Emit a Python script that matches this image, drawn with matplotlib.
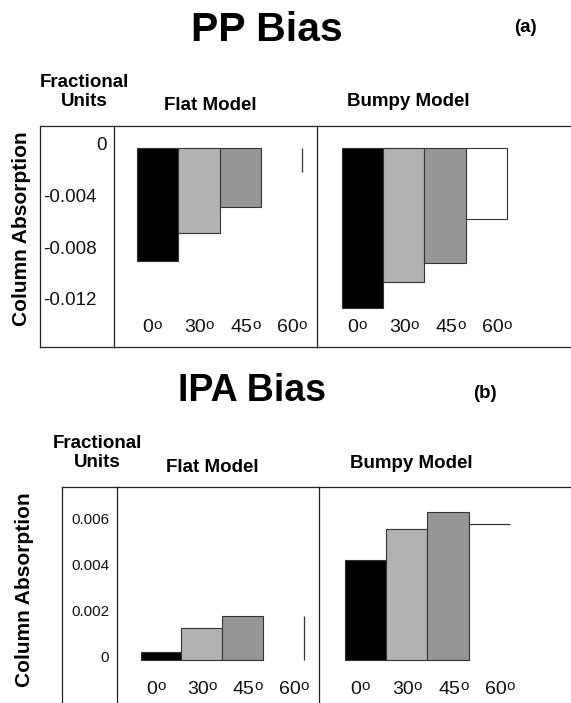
"""
PP / IPA column absorption bias, flat vs bumpy cloud model
"""

import numpy as np
import matplotlib
matplotlib.use('Agg')
import matplotlib.pyplot as plt
import matplotlib.transforms as mtransforms

# Fonts: Arial-like look
plt.rcParams['font.family'] = ['Liberation Sans', 'DejaVu Sans']

# ---- data ----
angles = ['0', '30', '45', '60']
pp_flat = [-0.00875, -0.00657, -0.0046, -0.00185]
pp_bumpy = [-0.01236, -0.01035, -0.00893, -0.00551]
ipa_flat = [0.00036, 0.0014, 0.00192, 0.00192]
ipa_bumpy = [0.00434, 0.00568, 0.00643, 0.0059]
pp_ticks = [0, -0.004, -0.008, -0.012]
pp_ticklabels = ['0', '-0.004', '-0.008', '-0.012']
ipa_ticks = [0.006, 0.004, 0.002, 0]
ipa_ticklabels = ['0.006', '0.004', '0.002', '0']

BAR_COLORS = ['#000000', '#b2b2b2', '#969696', '#ffffff']
LINE = '#222222'

W, H = 571, 703


def px_rect(left, top, right, bottom):
    """pixel box -> figure fraction rect"""
    return [left / W, 1 - bottom / H, (right - left) / W, (bottom - top) / H]


def frame(ax, bottom=True):
    ax.set_xticks([])
    ax.set_yticks([])
    ax.patch.set_alpha(0)
    for side in ['left', 'top', 'bottom']:
        ax.spines[side].set_color(LINE)
        ax.spines[side].set_linewidth(0.9)
    ax.spines['right'].set_visible(False)
    ax.spines['bottom'].set_visible(bottom)


def angle_label(ax, x, y, num, trans):
    """number with a small raised 'o' (degree sign as in the original)"""
    # shift number left by half the width of the 'o' so the pair is centred
    t = ax.text(x, y, num, transform=mtransforms.offset_copy(trans, fig=ax.figure, x=-3,
                                                            units='points'),
                ha='center', va='center', fontsize=14, color='#111111')
    ax.annotate('o', xy=(1, 1), xycoords=t, xytext=(0, 1), textcoords='offset points',
                ha='left', va='top', fontsize=11, color='#111111')


def draw_model(fig, rect, values, xlim, ylim, white_edge, label_y, bottom=True):
    ax = fig.add_axes(rect)
    frame(ax, bottom)
    ax.set_xlim(*xlim)
    ax.set_ylim(*ylim)
    x = np.arange(len(values))
    vals = np.array(values)

    # the three shaded bars
    ax.bar(x[:3], vals[:3], width=1.0, color=BAR_COLORS[:3],
           edgecolor='#333333', linewidth=0.8)

    # the 60 degree (white) bar - outline differs from panel to panel
    if white_edge == 'box':
        ax.bar(x[3], vals[3], width=1.0, color=BAR_COLORS[3],
               edgecolor='#333333', linewidth=0.8)
    elif white_edge == 'right':
        ax.vlines(x[3] + 0.5, 0, vals[3], color='#333333', linewidth=0.9)
    elif white_edge == 'top':
        ax.hlines(vals[3], x[3] - 0.5, x[3] + 0.5, color='#333333', linewidth=0.9)

    # angle labels are spaced a bit wider than the bars
    label_x = 1 + (x - 1) * 1.13
    trans = mtransforms.blended_transform_factory(ax.transData, ax.transAxes)
    for lx, a in zip(label_x, angles):
        angle_label(ax, lx, label_y, a, trans)
    return ax


def draw_label_column(fig, rect, ylim, ticks, labels, xpos, fontsize, bottom=True):
    ax = fig.add_axes(rect)
    frame(ax, bottom)
    ax.set_ylim(*ylim)
    trans = mtransforms.blended_transform_factory(ax.transAxes, ax.transData)
    trans = mtransforms.offset_copy(trans, fig=fig, y=1.5, units='points')
    for t, lab in zip(ticks, labels):
        ax.text(xpos(t), t, lab, transform=trans, ha='right', va='center',
                fontsize=fontsize, color='#111111')


def fig_text(fig, x, y, s, **kw):
    fig.text(x / W, 1 - y / H, s, ha='center', va='center', **kw)


fig = plt.figure(figsize=(W / 100, H / 100), dpi=100)
fig.patch.set_facecolor('white')

# ---------------- (a) PP Bias ----------------
pp_ylim = (-0.015402, 0.001677)
draw_label_column(fig, px_rect(40, 126, 114, 347), pp_ylim, pp_ticks, pp_ticklabels,
                  lambda t: 0.905 if t == 0 else 0.77, 13.5)
draw_model(fig, px_rect(114, 126, 317, 347), pp_flat, (-1.058, 3.864), pp_ylim,
           'right', 0.086)
draw_model(fig, px_rect(317, 126, 571, 347), pp_bumpy, (-1.107, 5.058), pp_ylim,
           'box', 0.086)

fig_text(fig, 266.5, 30, 'PP Bias', fontsize=29.5, fontweight='bold')
fig_text(fig, 525, 27, '(a)', fontsize=13.5, fontweight='bold')
fig_text(fig, 84, 92, 'Fractional\nUnits', fontsize=13.5, fontweight='bold',
         linespacing=1.1)
fig_text(fig, 210, 106, 'Flat Model', fontsize=13.5, fontweight='bold')
fig_text(fig, 408, 102, 'Bumpy Model', fontsize=13.5, fontweight='bold')
fig_text(fig, 22, 229, 'Column Absorption', fontsize=15, fontweight='bold',
         rotation=90)

# ---------------- (b) IPA Bias ----------------
ipa_ylim = (-0.0018655, 0.0074924)
draw_label_column(fig, px_rect(61.7, 487.3, 116.7, 703), ipa_ylim, ipa_ticks,
                  ipa_ticklabels, lambda t: 0.86, 11, bottom=False)
draw_model(fig, px_rect(116.7, 487.3, 319.3, 703), ipa_flat, (-1.088, 3.878), ipa_ylim,
           'right', 0.0635, bottom=False)
draw_model(fig, px_rect(319.3, 487.3, 571, 703), ipa_bumpy, (-1.123, 4.979), ipa_ylim,
           'top', 0.0635, bottom=False)

fig_text(fig, 252, 391, 'IPA Bias', fontsize=27, fontweight='bold')
fig_text(fig, 484.5, 394, '(b)', fontsize=13.5, fontweight='bold')
fig_text(fig, 97, 453, 'Fractional\nUnits', fontsize=13.5, fontweight='bold',
         linespacing=1.1)
fig_text(fig, 212, 467, 'Flat Model', fontsize=13.5, fontweight='bold')
fig_text(fig, 411, 463, 'Bumpy Model', fontsize=13.5, fontweight='bold')
fig_text(fig, 25, 590, 'Column Absorption', fontsize=15, fontweight='bold',
         rotation=90)

fig.savefig('out.png', dpi=100, facecolor='white')
plt.close(fig)
